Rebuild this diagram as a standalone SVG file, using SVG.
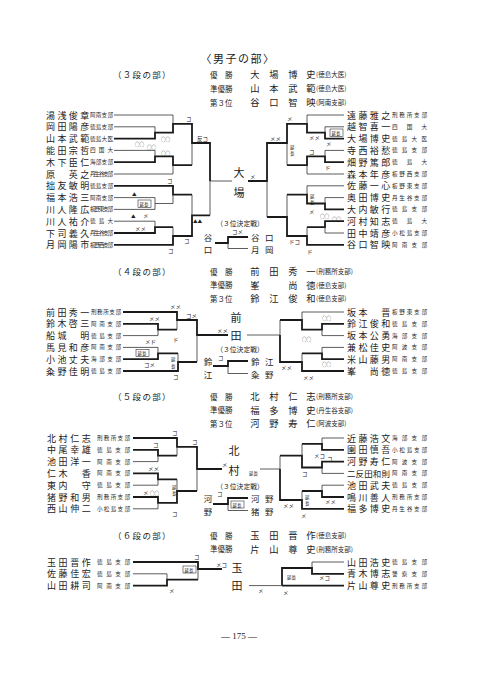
<svg xmlns="http://www.w3.org/2000/svg" width="480" height="679" viewBox="0 0 480 679">
<style>
text{font-family:"Noto Sans CJK JP","Noto Sans CJK SC",sans-serif;fill:#222;dominant-baseline:central}
.n{font-size:9px}
.b{font-size:5.6px}
.s{font-size:5.5px}
.o{font-size:4.6px}
.w{font-size:9.3px;text-anchor:middle}
.r{font-size:7.5px}
.p{font-size:6.5px}
.sec{font-size:8.5px;letter-spacing:1.3px}
.ttl{font-size:11px;letter-spacing:1.5px;text-anchor:middle}
.c{font-size:11px;text-anchor:middle}
.q{font-size:6.8px;text-anchor:middle}
.t3{font-size:8.5px}
.tv{font-size:8.5px;text-anchor:middle}
.l{fill:none;stroke:#333;stroke-width:.8}
.h{fill:none;stroke:#1a1a1a;stroke-width:1.8}
.bx{fill:#fff;stroke:#333;stroke-width:.6}
</style>
<rect width="480" height="679" fill="#fff"/>

<g id="header">
<text class="ttl" x="238" y="58">〈男子の部〉</text>
</g>

<!-- ===== 3段 ===== -->
<g id="sec3-title">
<text class="sec" x="113" y="74">（３段の部）</text>
<text class="r" x="210" y="74">優　勝</text><text class="w" x="255 274 293 311" y="74">大場博史</text><text class="p" x="316" y="74">(徳島大医)</text>
<text class="r" x="210" y="88">準優勝</text><text class="w" x="255 274 293 311" y="88">山本武範</text><text class="p" x="316" y="88">(徳島大医)</text>
<text class="r" x="210" y="102">第３位</text><text class="w" x="255 274 293 311" y="102">谷口智映</text><text class="p" x="316" y="102">(阿南支部)</text>
</g>
<g id="p3L01"><text class="n" x="46 57.4 68.8 80.2" y="115">湯浅俊章</text><text class="b" x="90" y="115" textLength="23">阿南支部</text></g>
<g id="p3L02"><text class="n" x="46 57.4 68.8 80.2" y="126.8">岡田陽彦</text><text class="b" x="90" y="126.8" textLength="23">徳島支部</text></g>
<g id="p3L03"><text class="n" x="46 57.4 68.8 80.2" y="138.6">山本武範</text><text class="b" x="90" y="138.6" textLength="23">徳島大医</text></g>
<g id="p3L04"><text class="n" x="46 57.4 68.8 80.2" y="150.4">能田宗哲</text><text class="b" x="90" y="150.4" textLength="23">四　国　大</text></g>
<g id="p3L05"><text class="n" x="46 57.4 68.8 80.2" y="162.2">木下臣仁</text><text class="b" x="90" y="162.2" textLength="23">海部支部</text></g>
<g id="p3L06"><text class="n" x="46 68.8 80.2" y="174">原英之</text><text class="b" x="90" y="174" textLength="23">丹生谷支部</text></g>
<g id="p3L07"><text class="n" x="46 57.4 68.8 80.2" y="185.8">拙友敏明</text><text class="b" x="90" y="185.8" textLength="23">徳島支部</text></g>
<g id="p3L08"><text class="n" x="46 57.4 68.8 80.2" y="197.6">福本浩三</text><text class="b" x="90" y="197.6" textLength="23">阿南支部</text></g>
<g id="p3L09"><text class="n" x="46 57.4 68.8 80.2" y="209.4">川人隆広</text><text class="b" x="90" y="209.4" textLength="23">板野東支部</text></g>
<g id="p3L10"><text class="n" x="46 57.4 68.8 80.2" y="221.2">川人祐介</text><text class="b" x="90" y="221.2" textLength="23">徳　島　大</text></g>
<g id="p3L11"><text class="n" x="46 57.4 68.8 80.2" y="233">下司義久</text><text class="b" x="90" y="233" textLength="23">丹生谷支部</text></g>
<g id="p3L12"><text class="n" x="46 57.4 68.8 80.2" y="244.8">月岡陽市</text><text class="b" x="90" y="244.8" textLength="23">板野西支部</text></g>

<g id="p3R01"><text class="n" x="347 358.4 369.8 381.2" y="115">遠藤雅之</text><text class="b" x="392" y="115" textLength="35">刑務所支部</text></g>
<g id="p3R02"><text class="n" x="347 358.4 369.8 381.2" y="126.8">越智喜一</text><text class="b" x="392" y="126.8" textLength="35">四　国　大</text></g>
<g id="p3R03"><text class="n" x="347 358.4 369.8 381.2" y="138.6">大場博史</text><text class="b" x="392" y="138.6" textLength="35">徳島大医</text></g>
<g id="p3R04"><text class="n" x="347 358.4 369.8 381.2" y="150.4">寺西裕愁</text><text class="b" x="392" y="150.4" textLength="35">徳島支部</text></g>
<g id="p3R05"><text class="n" x="347 358.4 369.8 381.2" y="162.2">畑野篤郎</text><text class="b" x="392" y="162.2" textLength="35">徳　島　大</text></g>
<g id="p3R06"><text class="n" x="347 358.4 369.8 381.2" y="174">森本年彦</text><text class="b" x="392" y="174" textLength="35">板野西支部</text></g>
<g id="p3R07"><text class="n" x="347 358.4 369.8 381.2" y="185.8">佐藤一心</text><text class="b" x="392" y="185.8" textLength="35">板野東支部</text></g>
<g id="p3R08"><text class="n" x="347 358.4 369.8 381.2" y="197.6">奥田博史</text><text class="b" x="392" y="197.6" textLength="35">丹生谷支部</text></g>
<g id="p3R09"><text class="n" x="347 358.4 369.8 381.2" y="209.4">大内敏行</text><text class="b" x="392" y="209.4" textLength="35">徳島支部</text></g>
<g id="p3R10"><text class="n" x="347 358.4 369.8 381.2" y="221.2">河村知志</text><text class="b" x="392" y="221.2" textLength="35">徳　島　大</text></g>
<g id="p3R11"><text class="n" x="347 358.4 369.8 381.2" y="233">田中靖彦</text><text class="b" x="392" y="233" textLength="35">小松島支部</text></g>
<g id="p3R12"><text class="n" x="347 358.4 369.8 381.2" y="244.8">谷口智映</text><text class="b" x="392" y="244.8" textLength="35">阿南支部</text></g>

<g id="final3"><text class="c" x="239" y="172">大</text><text class="c" x="239" y="192">場</text></g>
<g id="third3">
<text class="q" x="240" y="223">（３位決定戦）</text>
<text class="tv" x="208" y="237">谷</text><text class="tv" x="208" y="249">口</text>
<text class="t3" x="251 265" y="237">谷口</text><text class="t3" x="251 265" y="248.5">月岡</text>
</g>

<!-- ===== 4段 ===== -->
<g id="sec4-title">
<text class="sec" x="113" y="271">（４段の部）</text>
<text class="r" x="210" y="271">優　勝</text><text class="w" x="255 274 293 311" y="271">前田秀一</text><text class="p" x="316" y="271">(刑務所支部)</text>
<text class="r" x="210" y="284.5">準優勝</text><text class="w" x="255 293 311" y="284.5">峯尚徳</text><text class="p" x="316" y="284.5">(徳島支部)</text>
<text class="r" x="210" y="298">第３位</text><text class="w" x="255 274 293 311" y="298">鈴江俊和</text><text class="p" x="316" y="298">(徳島支部)</text>
</g>
<g id="p4L1"><text class="n" x="46 57.4 68.8 80.2" y="312">前田秀一</text><text class="b" x="91" y="312" textLength="30">刑務所支部</text></g>
<g id="p4L2"><text class="n" x="46 57.4 68.8 80.2" y="323.8">鈴木啓三</text><text class="b" x="91" y="323.8" textLength="30">阿南支部</text></g>
<g id="p4L3"><text class="n" x="46 57.4 80.2" y="335.6">船城明</text><text class="b" x="91" y="335.6" textLength="30">徳島支部</text></g>
<g id="p4L4"><text class="n" x="46 57.4 68.8 80.2" y="347.4">馬見和彦</text><text class="b" x="91" y="347.4" textLength="30">阿南支部</text></g>
<g id="p4L5"><text class="n" x="46 57.4 68.8 80.2" y="359.2">小池丈夫</text><text class="b" x="91" y="359.2" textLength="30">海部支部</text></g>
<g id="p4L6"><text class="n" x="46 57.4 68.8 80.2" y="371">粂野佳明</text><text class="b" x="91" y="371" textLength="30">徳島支部</text></g>
<g id="p4R1"><text class="n" x="347 358.4 381.2" y="312">坂本晋</text><text class="b" x="392" y="312" textLength="35">板野東支部</text></g>
<g id="p4R2"><text class="n" x="347 358.4 369.8 381.2" y="323.8">鈴江俊和</text><text class="b" x="392" y="323.8" textLength="35">徳島支部</text></g>
<g id="p4R3"><text class="n" x="347 358.4 369.8 381.2" y="335.6">坂本公勇</text><text class="b" x="392" y="335.6" textLength="35">海部支部</text></g>
<g id="p4R4"><text class="n" x="347 358.4 369.8 381.2" y="347.4">兼松佳史</text><text class="b" x="392" y="347.4" textLength="35">阿波支部</text></g>
<g id="p4R5"><text class="n" x="347 358.4 369.8 381.2" y="359.2">米山藤男</text><text class="b" x="392" y="359.2" textLength="35">阿南支部</text></g>
<g id="p4R6"><text class="n" x="347 369.8 381.2" y="371">峯尚徳</text><text class="b" x="392" y="371" textLength="35">徳島支部</text></g>
<g id="final4"><text class="c" x="236" y="317">前</text><text class="c" x="236" y="335">田</text></g>
<g id="third4">
<text class="q" x="240" y="348.5">（３位決定戦）</text>
<text class="tv" x="208" y="361">鈴</text><text class="tv" x="208" y="374">江</text>
<text class="t3" x="251 265" y="361">鈴江</text><text class="t3" x="251 265" y="373.5">粂野</text>
</g>

<!-- ===== 5段 ===== -->
<g id="sec5-title">
<text class="sec" x="113" y="396">（５段の部）</text>
<text class="r" x="210" y="396">優　勝</text><text class="w" x="255 274 293 311" y="396">北村仁志</text><text class="p" x="316" y="396">(刑務所支部)</text>
<text class="r" x="210" y="409.5">準優勝</text><text class="w" x="255 274 293 311" y="409.5">福多博史</text><text class="p" x="316" y="409.5">(丹生谷支部)</text>
<text class="r" x="210" y="423">第３位</text><text class="w" x="255 274 293 311" y="423">河野寿仁</text><text class="p" x="316" y="423">(阿波支部)</text>
</g>
<g id="p5L1"><text class="n" x="47 58.6 70.2 81.8" y="438">北村仁志</text><text class="b" x="97" y="438" textLength="33">刑務所支部</text></g>
<g id="p5L2"><text class="n" x="47 58.6 70.2 81.8" y="449.8">中尾幸雄</text><text class="b" x="97" y="449.8" textLength="33">徳島支部</text></g>
<g id="p5L3"><text class="n" x="47 58.6 70.2 81.8" y="461.6">池田洋一</text><text class="b" x="97" y="461.6" textLength="33">阿南支部</text></g>
<g id="p5L4"><text class="n" x="47 58.6 81.8" y="473.4">仁木香</text><text class="b" x="97" y="473.4" textLength="33">阿南支部</text></g>
<g id="p5L5"><text class="n" x="47 58.6 81.8" y="485.2">東内守</text><text class="b" x="97" y="485.2" textLength="33">徳島支部</text></g>
<g id="p5L6"><text class="n" x="47 58.6 70.2 81.8" y="497">猪野和男</text><text class="b" x="97" y="497" textLength="33">刑務所支部</text></g>
<g id="p5L7"><text class="n" x="47 58.6 70.2 81.8" y="508.8">西山伸二</text><text class="b" x="97" y="508.8" textLength="33">小松島支部</text></g>
<g id="p5R1"><text class="n" x="347 358.4 369.8 381.2" y="438">近藤浩文</text><text class="b" x="392" y="438" textLength="35">海部支部</text></g>
<g id="p5R2"><text class="n" x="347 358.4 369.8 381.2" y="449.8">園田慎吾</text><text class="b" x="392" y="449.8" textLength="35">小松島支部</text></g>
<g id="p5R3"><text class="n" x="347 358.4 369.8 381.2" y="461.6">河野寿仁</text><text class="b" x="392" y="461.6" textLength="35">阿波支部</text></g>
<g id="p5R4"><text class="n" x="347 355.6 364.2 372.8 381.4" y="473.4" style="font-size:8.5px">二反田和則</text><text class="b" x="392" y="473.4" textLength="35">阿南支部</text></g>
<g id="p5R5"><text class="n" x="347 358.4 369.8 381.2" y="485.2">池田武夫</text><text class="b" x="392" y="485.2" textLength="35">徳島支部</text></g>
<g id="p5R6"><text class="n" x="347 358.4 369.8 381.2" y="497">鳴川善人</text><text class="b" x="392" y="497" textLength="35">刑務所支部</text></g>
<g id="p5R7"><text class="n" x="347 358.4 369.8 381.2" y="508.8">福多博史</text><text class="b" x="392" y="508.8" textLength="35">丹生谷支部</text></g>
<g id="final5"><text class="c" x="234" y="450">北</text><text class="c" x="234" y="470">村</text></g>
<g id="third5">
<text class="q" x="240" y="486">（３位決定戦）</text>
<text class="tv" x="208" y="498">河</text><text class="tv" x="208" y="511">野</text>
<text class="t3" x="251 265" y="498">河野</text><text class="t3" x="251 265" y="510.5">猪野</text>
</g>

<!-- ===== 6段 ===== -->
<g id="sec6-title">
<text class="sec" x="113" y="535">（６段の部）</text>
<text class="r" x="210" y="535">優　勝</text><text class="w" x="255 274 293 311" y="535">玉田晋作</text><text class="p" x="316" y="535">(徳島支部)</text>
<text class="r" x="210" y="548.5">準優勝</text><text class="w" x="255 274 293 311" y="548.5">片山尊史</text><text class="p" x="316" y="548.5">(刑務所支部)</text>
</g>
<g id="p6L1"><text class="n" x="47 58.6 70.2 81.8" y="562">玉田晋作</text><text class="b" x="97" y="562" textLength="33">徳島支部</text></g>
<g id="p6L2"><text class="n" x="47 58.6 70.2 81.8" y="573.8">佐藤佳宏</text><text class="b" x="97" y="573.8" textLength="33">徳島支部</text></g>
<g id="p6L3"><text class="n" x="47 58.6 70.2 81.8" y="585.6">山田耕司</text><text class="b" x="97" y="585.6" textLength="33">阿南支部</text></g>
<g id="p6R1"><text class="n" x="347 358.4 369.8 381.2" y="562">山田浩史</text><text class="b" x="392" y="562" textLength="35">徳島支部</text></g>
<g id="p6R2"><text class="n" x="347 358.4 369.8 381.2" y="573.8">青木博志</text><text class="b" x="392" y="573.8" textLength="35">警察支部</text></g>
<g id="p6R3"><text class="n" x="347 358.4 369.8 381.2" y="585.6">片山尊史</text><text class="b" x="392" y="585.6" textLength="35">刑務所支部</text></g>
<g id="final6"><text class="c" x="237" y="567">玉</text><text class="c" x="237" y="585">田</text></g>

<g id="connectors">
<!-- 3段 left -->
<path class="h" d="M114 138.6H155V132.7H173V123.9H192V143H210V181M114 162.2H155V156.3H173V165.2H192M114 185.8H173V194.6H192M114 233H155V227.1H173M114 244.8H173V236H192V215.3H210"/>
<path class="l" d="M114 115H173V123.9M114 126.8H155V132.7M114 150.4H155V156.3M114 174H173V165.2M192 143V165.2M114 197.6H155V209.4H114M155 203.5H173V194.6M114 221.2H155V227.1M173 227.1V236M192 194.6V215.3M210 181V215.3M210 181H232"/>
<!-- 3段 right -->
<path class="h" d="M344 138.6H325V132.7H307V123.9H287V143H267V181H248M344 162.2H325V156.3H307V165.2H287M344 209.4H325V203.5H307V194.6H287M344 221.2H325V227.1H307M344 244.8H307V236H287V217H267"/>
<path class="l" d="M344 115H307V123.9M344 126.8H325V132.7M344 150.4H325V156.3M344 174H307V165.2M287 143V165.2M344 185.8H307V194.6M344 197.6H325V203.5M344 233H325V227.1M307 227.1V236M287 194.6V217M267 181V217"/>
<path class="h" d="M215 243H228V237H248"/>
<path class="l" d="M228 243V248.5H248"/>
<!-- 4段 -->
<path class="h" d="M123 312H177V320H197V335H228M123 323.8H158V329.7H177M123 359.2H158V353.3H178M123 371H178V362H197"/>
<path class="l" d="M123 335.6H158V329.7M177 320V329.7M123 347.4H158V353.3M178 353.3V362M197 335V362"/>
<path class="h" d="M344 323.8H322V329.7H302V320H280M344 359.2H322V353.3H302M344 371H302V362H280V335"/>
<path class="l" d="M344 312H302V320M344 335.6H322V329.7M344 347.4H322V353.3M302 353.3V362M280 320V335H247"/>
<path class="h" d="M213 366H228V361H248"/>
<path class="l" d="M228 366V373.5H248"/>
<!-- 5段 -->
<path class="h" d="M133 438H177V446.9H197V469H222M133 449.8H158V455.7H177M133 473.4H158V479.3H177M133 497H158V502.9H177V491H197"/>
<path class="l" d="M177 446.9V455.7M133 461.6H158V455.7M133 485.2H158V479.3M177 479.3V491M133 508.8H158V502.9M197 469V491"/>
<path class="h" d="M344 449.8H322V443.9H302M344 461.6H322V467.5H302V455.7H280M344 497H322V491H302M344 508.8H302V500H280V469"/>
<path class="l" d="M344 438H322V443.9M302 443.9V455.7M344 473.4H322V467.5M280 455.7V469H260M344 485.2H322V491M302 491V500"/>
<path class="h" d="M213 504H228V498H248"/>
<path class="l" d="M228 504V510.5H248"/>
<!-- 6段 -->
<path class="h" d="M133 562H198V569H222M133 585.6H167V579.7H198M344 573.8H312V568H282V585.6M344 585.6H282"/>
<path class="l" d="M133 573.8H167V579.7M198 569V579.7M344 562H312V568M282 585.6H249"/>
</g>

<g id="marks">
<!-- 3段 -->
<text class="s" x="186" y="118.5">コ</text>
<text class="s" x="197" y="138.5">反コ</text>
<text class="o" x="135" y="144">○○</text><text class="o" x="147" y="147">○○</text>
<text class="o" x="161" y="138.5">○○</text><text class="o" x="161" y="152.5">○○</text>
<text class="s" x="167" y="181">コ</text>
<rect class="bx" x="138" y="200" width="13" height="7.5"/><text class="o" x="139.5" y="203.8">延長</text>
<text class="o" x="132" y="193.5">▲</text><text class="o" x="131" y="215.5">▲</text>
<text class="s" x="143" y="216">メ</text><text class="s" x="135" y="229">メメ</text>
<text class="o" x="193" y="221">▲▲</text>
<text class="s" x="184" y="240.5">コ</text><text class="s" x="168" y="251">コ</text>
<text class="s" x="232" y="232">コメ</text>
<rect class="bx" x="330" y="129" width="13" height="7.5"/><text class="o" x="331.5" y="132.8">延長</text>
<text class="s" x="326" y="143.5">メ</text><text class="s" x="325" y="168">ド</text>
<text class="s" x="287" y="118.5">メ</text><text class="s" x="270" y="138.5">メメ</text>
<text class="o" x="290" y="147">延</text><text class="o" x="290" y="153">長</text>
<text class="s" x="309" y="138">メメ</text><text class="s" x="309" y="151.5">コ</text>
<text class="o" x="310" y="196">延</text><text class="o" x="310" y="202">長</text>
<text class="s" x="309" y="212">メ</text>
<text class="o" x="320" y="216">○○</text><text class="o" x="332" y="218.5">○○</text>
<text class="s" x="289" y="242">ドコ</text><text class="s" x="307" y="252">ド</text>
<text class="s" x="250" y="177">メ</text>
<!-- 4段 -->
<text class="s" x="170" y="307">メメ</text><text class="s" x="149" y="319">メメ</text>
<text class="s" x="186" y="316">コメ</text><text class="s" x="173" y="340">ド</text>
<text class="s" x="217" y="331">メメ</text><text class="s" x="145" y="341.5">メド</text>
<rect class="bx" x="136" y="349.5" width="13" height="7"/><text class="o" x="137.5" y="353">延長</text>
<text class="s" x="144" y="364.5">コメ</text>
<text class="o" x="171" y="359">延</text><text class="o" x="171" y="365.5">長</text>
<text class="s" x="173" y="377">コ</text>
<text class="o" x="322" y="318">○○</text><text class="o" x="302" y="339">○○</text><text class="o" x="322" y="364">○○</text>
<text class="s" x="281" y="368">メメ</text><text class="s" x="303" y="378">メメ</text>
<text class="s" x="218" y="357.5">コ</text>
<!-- 5段 -->
<text class="s" x="172" y="433">コ</text><text class="s" x="153" y="445">コ</text>
<text class="s" x="192" y="442">コ</text><text class="s" x="222" y="465">メ</text>
<text class="s" x="148" y="469">メメ</text>
<text class="s" x="143" y="493">メ</text><text class="o" x="150" y="493">○○</text>
<text class="o" x="172" y="486.5">延</text><text class="o" x="172" y="493">長</text>
<text class="s" x="172" y="513.5">コ</text>
<text class="s" x="314" y="456">メコ</text><text class="s" x="327" y="459">コ</text>
<text class="s" x="302" y="474">コ</text>
<text class="o" x="305" y="496.5">延</text><text class="o" x="305" y="503">長</text>
<text class="s" x="325" y="502">メメ</text><text class="s" x="283" y="506">メメ</text>
<text class="s" x="301" y="516">メ</text>
<text class="o" x="249" y="473">延長</text>
<text class="s" x="217" y="494">コ</text>
<rect class="bx" x="231" y="501" width="13" height="7"/><text class="o" x="232.5" y="504.5">延長</text>
<!-- 6段 -->
<text class="s" x="194" y="557">コ</text>
<rect class="bx" x="183" y="566" width="13" height="7"/><text class="o" x="184.5" y="569.5">延長</text>
<text class="s" x="169" y="591">メ</text><text class="s" x="216" y="564.5">メコ</text>
<text class="s" x="319" y="578">メコ</text>
<text class="o" x="287" y="577">延長</text>
<text class="s" x="258" y="591">メ</text><text class="s" x="283" y="593">メ</text>
</g>

<g id="footer"><text x="239" y="636" style="font-family:'Liberation Serif',serif;font-size:9px;text-anchor:middle">— 175 —</text></g>
</svg>
